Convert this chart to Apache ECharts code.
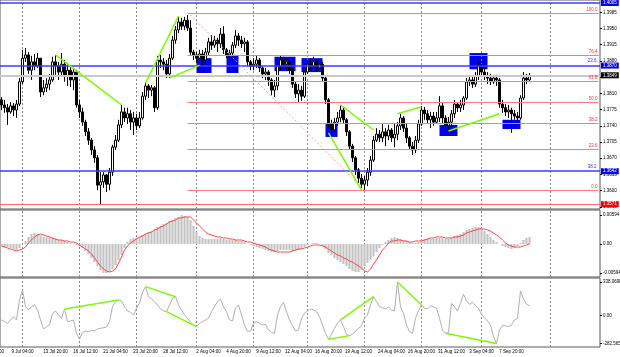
<!DOCTYPE html>
<html><head><meta charset="utf-8">
<script src="https://cdn.jsdelivr.net/npm/echarts/dist/echarts.min.js"></script>
<style>html,body{margin:0;padding:0;background:#fff}#c{width:620px;height:357px}</style>
</head><body><div id="c"></div>
<script>
// ---------- data ----------
const firstOpen = 1.3796;
const closes = [
1.3785,1.3779,1.3770,1.3783,1.3774,1.3787,1.3835,1.3886,1.3893,1.3860,
1.3878,1.3869,1.3886,1.3813,1.3822,1.3830,1.3839,1.3878,1.3869,1.3856,
1.3873,1.3848,1.3860,1.3839,1.3856,1.3785,1.3770,1.3748,1.3727,1.3709,
1.3688,1.3671,1.3612,1.3619,1.3634,1.3614,1.3640,1.3694,1.3709,1.3742,
1.3770,1.3757,1.3766,1.3748,1.3757,1.3740,1.3757,1.3804,1.3826,1.3817,
1.3822,1.3779,1.3882,1.3878,1.3873,1.3852,1.3886,1.3925,1.3947,1.3964,
1.3955,1.3968,1.3951,1.3899,1.3893,1.3886,1.3895,1.3882,1.3899,1.3921,
1.3914,1.3925,1.3917,1.3938,1.3904,1.3893,1.3897,1.3914,1.3934,1.3925,
1.3917,1.3921,1.3878,1.3869,1.3873,1.3882,1.3865,1.3852,1.3856,1.3839,
1.3817,1.3826,1.3869,1.3882,1.3873,1.3878,1.3860,1.3830,1.3809,1.3817,
1.3804,1.3856,1.3873,1.3869,1.3878,1.3865,1.3873,1.3843,1.3796,1.3744,
1.3731,1.3748,1.3757,1.3774,1.3753,1.3727,1.3696,1.3671,1.3645,1.3627,
1.3614,1.3623,1.3640,1.3666,1.3709,1.3722,1.3714,1.3727,1.3718,1.3731,
1.3714,1.3722,1.3740,1.3757,1.3735,1.3714,1.3696,1.3688,1.3709,1.3744,
1.3774,1.3766,1.3753,1.3761,1.3748,1.3757,1.3783,1.3757,1.3740,1.3748,
1.3766,1.3787,1.3779,1.3785,1.3800,1.3835,1.3839,1.3830,1.3848,1.3869,
1.3856,1.3848,1.3843,1.3835,1.3843,1.3839,1.3787,1.3779,1.3770,1.3774,
1.3766,1.3761,1.3757,1.3800,1.3843,1.3839,1.3848];
const highs = [
1.3802,1.3796,1.3787,1.3791,1.3789,1.3796,1.3843,1.3904,1.3908,1.3899,
1.3891,1.3895,1.3897,1.3886,1.3839,1.3843,1.3852,1.3889,1.3893,1.3878,
1.3897,1.3882,1.3876,1.3869,1.3865,1.3860,1.3796,1.3779,1.3753,1.3735,
1.3714,1.3696,1.3677,1.3640,1.3640,1.3636,1.3649,1.3699,1.3720,1.3753,
1.3785,1.3779,1.3779,1.3774,1.3770,1.3766,1.3770,1.3813,1.3832,1.3830,
1.3828,1.3826,1.3891,1.3893,1.3886,1.3882,1.3895,1.3934,1.3955,1.3975,
1.3973,1.3975,1.3979,1.3968,1.3904,1.3899,1.3904,1.3904,1.3908,1.3930,
1.3936,1.3934,1.3930,1.3951,1.3955,1.3908,1.3904,1.3921,1.3947,1.3940,
1.3934,1.3930,1.3925,1.3882,1.3886,1.3891,1.3886,1.3869,1.3865,1.3860,
1.3843,1.3839,1.3878,1.3891,1.3889,1.3886,1.3882,1.3865,1.3835,1.3830,
1.3826,1.3860,1.3882,1.3886,1.3889,1.3882,1.3882,1.3878,1.3848,1.3800,
1.3753,1.3757,1.3770,1.3785,1.3779,1.3757,1.3731,1.3701,1.3675,1.3649,
1.3636,1.3632,1.3649,1.3675,1.3718,1.3735,1.3731,1.3746,1.3735,1.3742,
1.3735,1.3744,1.3748,1.3766,1.3761,1.3744,1.3718,1.3705,1.3718,1.3753,
1.3783,1.3781,1.3774,1.3770,1.3770,1.3770,1.3804,1.3791,1.3763,1.3759,
1.3774,1.3796,1.3791,1.3796,1.3804,1.3843,1.3848,1.3848,1.3856,1.3878,
1.3873,1.3865,1.3856,1.3852,1.3850,1.3850,1.3843,1.3796,1.3787,1.3785,
1.3779,1.3774,1.3770,1.3806,1.3856,1.3852,1.3854];
const lows = [
1.3774,1.3768,1.3742,1.3766,1.3761,1.3757,1.3783,1.3830,1.3878,1.3852,
1.3839,1.3860,1.3865,1.3802,1.3806,1.3813,1.3817,1.3835,1.3850,1.3839,
1.3848,1.3835,1.3826,1.3824,1.3817,1.3779,1.3757,1.3740,1.3718,1.3699,
1.3677,1.3660,1.3601,1.3571,1.3606,1.3597,1.3601,1.3632,1.3688,1.3705,
1.3735,1.3748,1.3744,1.3731,1.3720,1.3731,1.3735,1.3753,1.3796,1.3800,
1.3804,1.3770,1.3774,1.3865,1.3860,1.3843,1.3843,1.3882,1.3917,1.3940,
1.3947,1.3947,1.3945,1.3893,1.3882,1.3876,1.3878,1.3869,1.3873,1.3893,
1.3904,1.3908,1.3899,1.3908,1.3895,1.3886,1.3882,1.3886,1.3908,1.3912,
1.3908,1.3899,1.3869,1.3860,1.3860,1.3865,1.3856,1.3843,1.3839,1.3826,
1.3806,1.3802,1.3817,1.3860,1.3865,1.3860,1.3852,1.3822,1.3800,1.3791,
1.3794,1.3800,1.3852,1.3860,1.3865,1.3856,1.3860,1.3835,1.3787,1.3735,
1.3716,1.3727,1.3740,1.3748,1.3744,1.3718,1.3688,1.3662,1.3634,1.3617,
1.3606,1.3601,1.3610,1.3632,1.3662,1.3705,1.3705,1.3705,1.3696,1.3709,
1.3705,1.3694,1.3709,1.3731,1.3727,1.3703,1.3688,1.3677,1.3681,1.3703,
1.3740,1.3753,1.3744,1.3735,1.3740,1.3744,1.3748,1.3744,1.3731,1.3729,
1.3740,1.3757,1.3770,1.3770,1.3774,1.3796,1.3826,1.3822,1.3824,1.3839,
1.3848,1.3839,1.3830,1.3828,1.3830,1.3826,1.3779,1.3768,1.3761,1.3757,
1.3725,1.3753,1.3748,1.3753,1.3796,1.3830,1.3835];
const macdHist = [
-0.00041,-0.00062,-0.00062,-0.00082,-0.00103,-0.00123,-0.00082,0,0.00062,0.00144,
0.00205,0.00226,0.00205,0.00164,0.00144,0.00144,0.00123,0.00123,0.00103,0.00082,
0.00082,0.00062,0.00041,0.00021,0,-0.00021,-0.00041,-0.00082,-0.00144,-0.00205,
-0.00287,-0.00369,-0.00451,-0.00533,-0.00594,-0.00594,-0.00574,-0.00513,-0.00431,-0.00328,
-0.00226,-0.00082,0.00041,0.00103,0.00123,0.00123,0.00144,0.00185,0.00205,0.00246,
0.00267,0.00308,0.00349,0.00369,0.0041,0.00431,0.00472,0.00492,0.00533,0.00554,
0.00594,0.00574,0.00554,0.00492,0.00369,0.00246,0.00164,0.00123,0.00103,0.00103,
0.00103,0.00103,0.00103,0.00123,0.00103,0.00082,0.00082,0.00082,0.00082,0.00062,
0.00062,0.00041,0,-0.00021,-0.00041,-0.00062,-0.00082,-0.00103,-0.00123,-0.00144,
-0.00164,-0.00164,-0.00144,-0.00123,-0.00123,-0.00123,-0.00123,-0.00144,-0.00144,-0.00123,
-0.00103,-0.00062,-0.00021,0,0.00021,0.00021,0,-0.00041,-0.00103,-0.00185,
-0.00226,-0.00287,-0.00328,-0.00369,-0.0041,-0.00451,-0.00513,-0.00554,-0.00574,-0.00574,
-0.00533,-0.00451,-0.0039,-0.00328,-0.00246,-0.00164,-0.00082,-0.00021,0.00041,0.00082,
0.00123,0.00144,0.00123,0.00103,0.00082,0.00062,0.00041,0.00021,0.00021,0.00041,
0.00082,0.00103,0.00103,0.00103,0.00103,0.00123,0.00123,0.00123,0.00103,0.00103,
0.00123,0.00164,0.00185,0.00205,0.00246,0.00287,0.00308,0.00328,0.00349,0.00349,
0.00328,0.00267,0.00205,0.00144,0.00082,0.00041,0,-0.00041,-0.00062,-0.00082,
-0.00103,-0.00082,-0.00041,0.00021,0.00082,0.00123,0.00144];
const macdSignal = [
-0.00041,-0.00062,-0.00082,-0.00103,-0.00123,-0.00144,-0.00123,-0.00103,-0.00062,0.00021,
0.00082,0.00144,0.00185,0.00205,0.00185,0.00164,0.00144,0.00123,0.00103,0.00082,
0.00082,0.00062,0.00062,0.00041,0.00041,0.00021,-0.00021,-0.00062,-0.00103,-0.00144,
-0.00205,-0.00287,-0.00369,-0.00451,-0.00513,-0.00554,-0.00574,-0.00554,-0.00513,-0.0039,
-0.00267,-0.00123,-0.00041,0.00021,0.00062,0.00103,0.00144,0.00164,0.00205,0.00226,
0.00246,0.00287,0.00308,0.00349,0.00369,0.0041,0.00451,0.00472,0.00492,0.00533,
0.00533,0.00554,0.00554,0.00554,0.00492,0.00431,0.00369,0.00308,0.00246,0.00205,
0.00185,0.00164,0.00144,0.00144,0.00123,0.00123,0.00103,0.00103,0.00082,0.00082,
0.00082,0.00062,0.00041,0.00041,0.00021,0,-0.00021,-0.00041,-0.00062,-0.00103,
-0.00123,-0.00144,-0.00164,-0.00164,-0.00164,-0.00164,-0.00164,-0.00144,-0.00123,-0.00103,
-0.00103,-0.00082,-0.00062,-0.00041,-0.00021,-0.00021,-0.00021,-0.00041,-0.00062,-0.00103,
-0.00144,-0.00185,-0.00226,-0.00246,-0.00287,-0.00308,-0.00349,-0.00369,-0.0041,-0.00451,
-0.00492,-0.00554,-0.00574,-0.00513,-0.0041,-0.00328,-0.00226,-0.00123,-0.00062,0.00021,
0.00062,0.00062,0.00082,0.00082,0.00062,0.00062,0.00041,0.00041,0.00062,0.00062,
0.00062,0.00082,0.00103,0.00123,0.00123,0.00144,0.00144,0.00144,0.00123,0.00123,
0.00123,0.00144,0.00144,0.00164,0.00185,0.00226,0.00246,0.00267,0.00287,0.00308,
0.00308,0.00308,0.00287,0.00267,0.00226,0.00185,0.00144,0.00082,0.00021,-0.00021,
-0.00041,-0.00062,-0.00062,-0.00062,-0.00041,-0.00021,0];
const cci = [
-45,-62,-79,-45,-12,-45,157,257,89,56,
89,106,56,-45,-136,-113,-96,22,46,5,
-28,66,-62,-55,-45,-180,-240,-170,-156,-163,
-150,-156,-136,-129,-123,-116,-62,89,140,157,
147,89,46,32,5,73,123,234,291,190,
167,140,106,66,46,39,106,173,190,106,
56,5,-28,-69,-96,-113,-79,-62,-45,-28,
39,89,140,163,89,39,-45,-55,73,106,
5,-96,-163,-156,-79,-62,-79,-96,-89,-146,
-170,-180,5,89,133,39,-45,-102,-156,-146,
-28,22,46,66,56,39,-12,-96,-180,-240,
-190,-129,-79,-45,-113,-190,-203,-190,-156,-129,
-102,-28,5,106,190,140,89,79,66,86,
56,46,338.0698,89,22,-96,-163,-180,-28,46,
106,73,66,99,89,73,-28,-146,-180,-170,
123,89,46,123,214,147,113,133,99,73,
12,-22,-55,-96,-213,-282.5651,-146,-102,-102,-113,
-96,-45,-28,247,167,113,99];

const barCount = 200;
const xLabelIdx = [0,7,18,28,38,48,58,69,79,89,99,109,119,130,140,150,160,170];
const xLabelText = ['00','9 Jul 04:00','13 Jul 20:00','16 Jul 12:00','21 Jul 04:00','23 Jul 20:00','28 Jul 12:00','2 Aug 04:00','4 Aug 20:00','9 Aug 12:00','12 Aug 04:00','16 Aug 20:00','19 Aug 12:00','24 Aug 04:00','26 Aug 20:00','31 Aug 12:00','3 Sep 04:00','7 Sep 20:00'];
const gridBars = [7,26,45,65,84,102,121,140,160,183];
const priceTicks = [1.3565,1.3600,1.3635,1.3670,1.3705,1.3740,1.3775,1.3810,1.3845,1.3880,1.3915,1.3950,1.3985];
const macdTicks = [0.00594,0,-0.00594];
const cciTicks = [338.0698,0,-282.5651];

const fibNames = ['100.0','76.4','61.8','50.0','38.2','23.6','0.0'];
const fibPrices = [1.3982,1.3892,1.3836,1.3791,1.3746,1.3690,1.3600];
const fibStartBar = 62;
const fibTrend = [[63,1.3979],[121,1.3601]];
const blueLevels = [1.4005,1.3870,1.3642];
const blueTags = ['','23.6','38.2'];
const bidPrice = 1.3849;
const redLevel = 1.3571;
const zones = [
  [65,70,1.3886,1.3854],[75,79,1.3893,1.3854],[91,98,1.3889,1.3858],[100,107,1.3886,1.3856],
  [108,112,1.3746,1.3716],[146,152,1.3742,1.3718],[156,162,1.3897,1.3862],[167,173,1.3753,1.3733]];
const priceLines = [
  [[18,1.3893],[40,1.3785]],[[48,1.3832],[59,1.3977]],[[56,1.3843],[66,1.3871]],
  [[113,1.3785],[124,1.3731]],[[109,1.3725],[120,1.3601]],[[132,1.3766],[140,1.3781]],
  [[149,1.3729],[166,1.3766]]];
const cciLinePairs = [[21,39],[48,58],[55,65],[109,116],[113,124],[132,140],[148,165]];

// ---------- build ----------
const FONT = 'Liberation Sans';
const FS = 4.5;
const GREEN = '#7cfc00';
const BLUE = '#3b3bff';
const FIBRED = '#ff7b7b';
const cats = Array.from({length: barCount}, (_, i) => String(i));
const candles = closes.map((c, i) => [i === 0 ? firstOpen : closes[i - 1], c, lows[i], highs[i]]);
const labelMap = new Map(xLabelIdx.map((k, j) => [k, xLabelText[j]]));

function boxLabel(txt, bg) {
  return {show: true, position: 'end', distance: 1, formatter: txt, color: '#fff', backgroundColor: bg,
    padding: [1, 2, 0, 2], fontSize: FS, fontFamily: FONT};
}
const mainLines = [];
blueLevels.forEach((v, k) => {
  mainLines.push({yAxis: v, lineStyle: {color: BLUE, width: 1.5, type: 'solid'}, label: boxLabel(v.toFixed(4), '#0000ee')});
  if (blueTags[k]) mainLines.push([
    {coord: [0, v], lineStyle: {color: 'rgba(0,0,0,0)', width: 1, type: 'solid'},
     label: {show: true, position: 'insideEndTop', distance: 2, formatter: blueTags[k], color: '#3333ff', fontSize: FS, fontFamily: FONT}},
    {coord: [barCount - 1, v]}]);
});
mainLines.push({yAxis: bidPrice, lineStyle: {color: '#c8c8c8', width: 2, type: 'solid'}, label: boxLabel(bidPrice.toFixed(4), '#000')});
mainLines.push({yAxis: redLevel, lineStyle: {color: '#ff6a6a', width: 1, type: 'solid'}, label: boxLabel(redLevel.toFixed(4), '#ff0000')});
fibPrices.forEach((v, k) => mainLines.push([
  {coord: [fibStartBar, v], lineStyle: {color: FIBRED, width: 1, type: 'solid'},
   label: {show: true, position: 'insideEndTop', distance: 1, formatter: fibNames[k], color: '#ff3030', fontSize: FS, fontFamily: FONT}},
  {coord: [barCount - 1, v]}]));
mainLines.push([{coord: fibTrend[0], lineStyle: {color: '#ff9a9a', width: 1, type: [2, 2]}, label: {show: false}}, {coord: fibTrend[1]}]);
priceLines.forEach(p => mainLines.push([{coord: p[0], lineStyle: {color: GREEN, width: 1.5, type: 'solid'}, label: {show: false}}, {coord: p[1]}]));

const cciLines = cciLinePairs.map(([a, b]) => [
  {coord: [a, cci[a]], lineStyle: {color: GREEN, width: 1.5, type: 'solid'}, label: {show: false}},
  {coord: [b, cci[b]]}]);

function vGrid(xi, yi) {
  return {type: 'line', xAxisIndex: xi, yAxisIndex: yi, data: [], silent: true,
    markLine: {silent: true, symbol: 'none', z: 1, animation: false, label: {show: false},
      lineStyle: {color: '#8a8a8a', width: 1, type: [2, 2]},
      data: gridBars.map(b => ({xAxis: b}))}};
}
function xAx(gi, showLabels) {
  return {type: 'category', gridIndex: gi, data: cats, boundaryGap: true,
    axisLine: {show: false}, axisTick: {show: false}, splitLine: {show: false},
    axisLabel: showLabels ? {show: true, interval: (i) => labelMap.has(i), formatter: (v, i) => labelMap.get(i) || '',
      fontSize: FS, fontFamily: FONT, color: '#000', margin: 2} : {show: false}};
}
function yAx(gi, min, max, ticks, fmt) {
  return {type: 'value', gridIndex: gi, position: 'right', min, max, scale: true,
    axisLine: {show: false}, splitLine: {show: false},
    axisTick: {show: true, length: 2, customValues: ticks, lineStyle: {color: '#000'}},
    axisLabel: {show: true, customValues: ticks, formatter: fmt, fontSize: FS, fontFamily: FONT, color: '#000', margin: 3}};
}
const gridBase = {left: 0, width: 600, show: true, borderColor: '#5a5a5a', borderWidth: 1, containLabel: false, outerBoundsMode: 'none'};

const option = {
  animation: false,
  backgroundColor: '#fff',
  grid: [
    Object.assign({top: 0, height: 209}, gridBase),
    Object.assign({top: 210, height: 67}, gridBase),
    Object.assign({top: 278, height: 69}, gridBase)],
  xAxis: [xAx(0, false), xAx(1, false), xAx(2, true)],
  yAxis: [
    yAx(0, 1.35605, 1.40115, priceTicks, v => v.toFixed(4)),
    yAx(1, -0.006765, 0.00697, macdTicks, v => v === 0 ? '0.00' : v.toFixed(5)),
    yAx(2, -317.8, 378.4, cciTicks, v => v === 0 ? '0.00' : String(v))],
  series: [
    vGrid(0, 0), vGrid(1, 1), vGrid(2, 2),
    {type: 'candlestick', xAxisIndex: 0, yAxisIndex: 0, data: candles, barWidth: 2.2, z: 3,
      itemStyle: {color: '#ffffff', color0: '#000000', borderColor: '#000000', borderColor0: '#000000', borderWidth: 1},
      markArea: {silent: true, z: 1, itemStyle: {color: '#0000ee', opacity: 1},
        data: zones.map(z => [{coord: [z[0], z[2]]}, {coord: [z[1], z[3]]}])},
      markLine: {silent: true, symbol: 'none', z: 5, animation: false, precision: 4, data: mainLines}},
    {type: 'bar', xAxisIndex: 1, yAxisIndex: 1, data: macdHist, barWidth: 2.1, itemStyle: {color: '#c2c2c2'}, silent: true},
    {type: 'line', xAxisIndex: 1, yAxisIndex: 1, data: macdSignal, symbol: 'none', lineStyle: {color: '#ff4444', width: 1}, z: 4, silent: true},
    {type: 'line', xAxisIndex: 2, yAxisIndex: 2, data: cci, symbol: 'none', lineStyle: {color: '#b0b0b0', width: 1}, silent: true,
      markLine: {silent: true, symbol: 'none', z: 5, animation: false, data: cciLines}}
  ]
};
const chart = echarts.init(document.getElementById('c'), null, {renderer: 'canvas'});
chart.setOption(option);
</script>
</body></html>
